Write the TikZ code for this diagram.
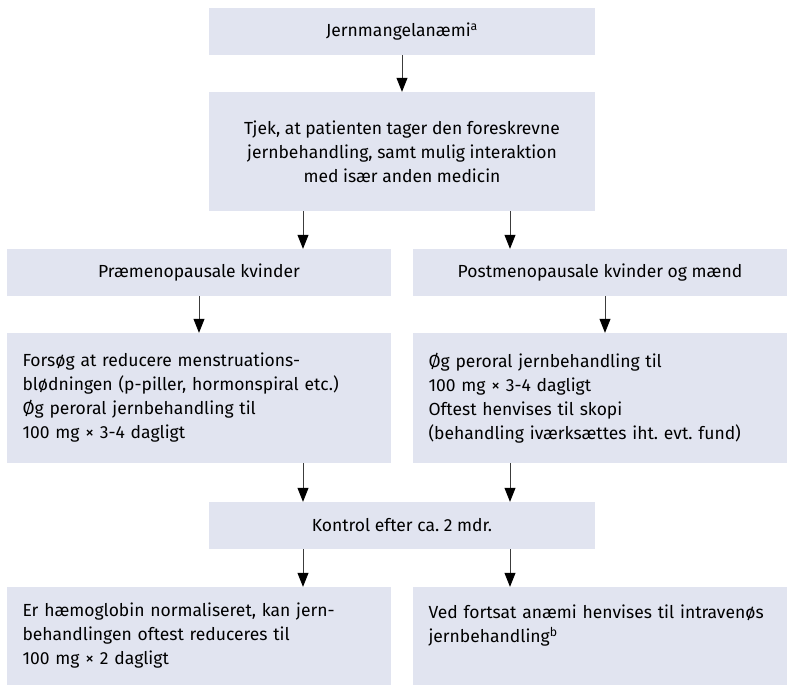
\documentclass[tikz,border=0pt]{standalone}
\usepackage{fontspec}
\setmainfont{Fira Sans}
\usepackage{tikz}
\usetikzlibrary{positioning, arrows.meta, calc}
\definecolor{boxfill}{RGB}{225,228,240}
\definecolor{arrgray}{RGB}{60,60,60}
\frenchspacing

\begin{document}
\begin{tikzpicture}[
  x=1pt, y=-1pt,
  font=\fontsize{17.5}{24}\selectfont,
  box/.style={fill=boxfill, inner sep=0pt, minimum height=47pt, align=center},
  wide/.style={box, minimum width=386pt},
  half/.style={box, minimum width=384pt},
  halfr/.style={box, minimum width=374pt},
  txtbox/.style={inner xsep=15.5pt, align=left},
  arr/.style={-{Triangle[length=14pt, width=11pt, color=black]}, line width=0.8pt, draw=arrgray}
]
\useasboundingbox (0,0) rectangle (787,685);
% top
\node[wide] (anaemi) at (402,31.5) {Jernmangelanæmi\textsuperscript{a}};
\node[wide, minimum height=119pt] (tjek) at (402,151.5)
  {Tjek, at patienten tager den foreskrevne\\jernbehandling, samt mulig interaktion\\med især anden medicin};
% groups
\node[half] (praem) at (199,272.5) {Præmenopausale kvinder};
\node[halfr] (postm) at (600,272.5) {Postmenopausale kvinder og mænd};
\node[half, txtbox, text width=353pt, minimum height=130pt] (praemtx) at (199,398)
  {Forsøg at reducere menstruations-\\blødningen (p-piller, hormonspiral etc.)\\Øg peroral jernbehandling til\\100 mg × 3-4 dagligt};
\node[halfr, txtbox, text width=343pt, minimum height=130pt] (postmtx) at (600,398)
  {Øg peroral jernbehandling til\\100 mg × 3-4 dagligt\\Oftest henvises til skopi\\(behandling iværksættes iht. evt. fund)};
% control
\node[wide] (kontrol) at (402,525.5) {Kontrol efter ca. 2 mdr.};
\node[half, txtbox, text width=353pt, minimum height=98pt] (normal) at (199,636)
  {Er hæmoglobin normaliseret, kan jern-\\behandlingen oftest reduceres til\\100 mg × 2 dagligt};
\node[halfr, txtbox, text width=343pt, minimum height=98pt] (fortsat) at (600,636)
  {Ved fortsat anæmi henvises til intravenøs\\jernbehandling\textsuperscript{b}\\\mbox{}};

\draw[arr] (anaemi) -- (tjek);
\draw[arr] ([xshift=-99]tjek.south) -- ([xshift=-99]tjek.south |- praem.north);
\draw[arr] ([xshift=108]tjek.south) -- ([xshift=108]tjek.south |- postm.north);
\draw[arr] (praem) -- (praemtx);
\draw[arr] ([xshift=5]postm.south) -- ([xshift=5]postm.south |- postmtx.north);
\draw[arr] ([xshift=-99]kontrol.north |- praemtx.south) -- ([xshift=-99]kontrol.north);
\draw[arr] ([xshift=108]kontrol.north |- postmtx.south) -- ([xshift=108]kontrol.north);
\draw[arr] ([xshift=-99]kontrol.south) -- ([xshift=-99]kontrol.south |- normal.north);
\draw[arr] ([xshift=108]kontrol.south) -- ([xshift=108]kontrol.south |- fortsat.north);
\end{tikzpicture}
\end{document}
